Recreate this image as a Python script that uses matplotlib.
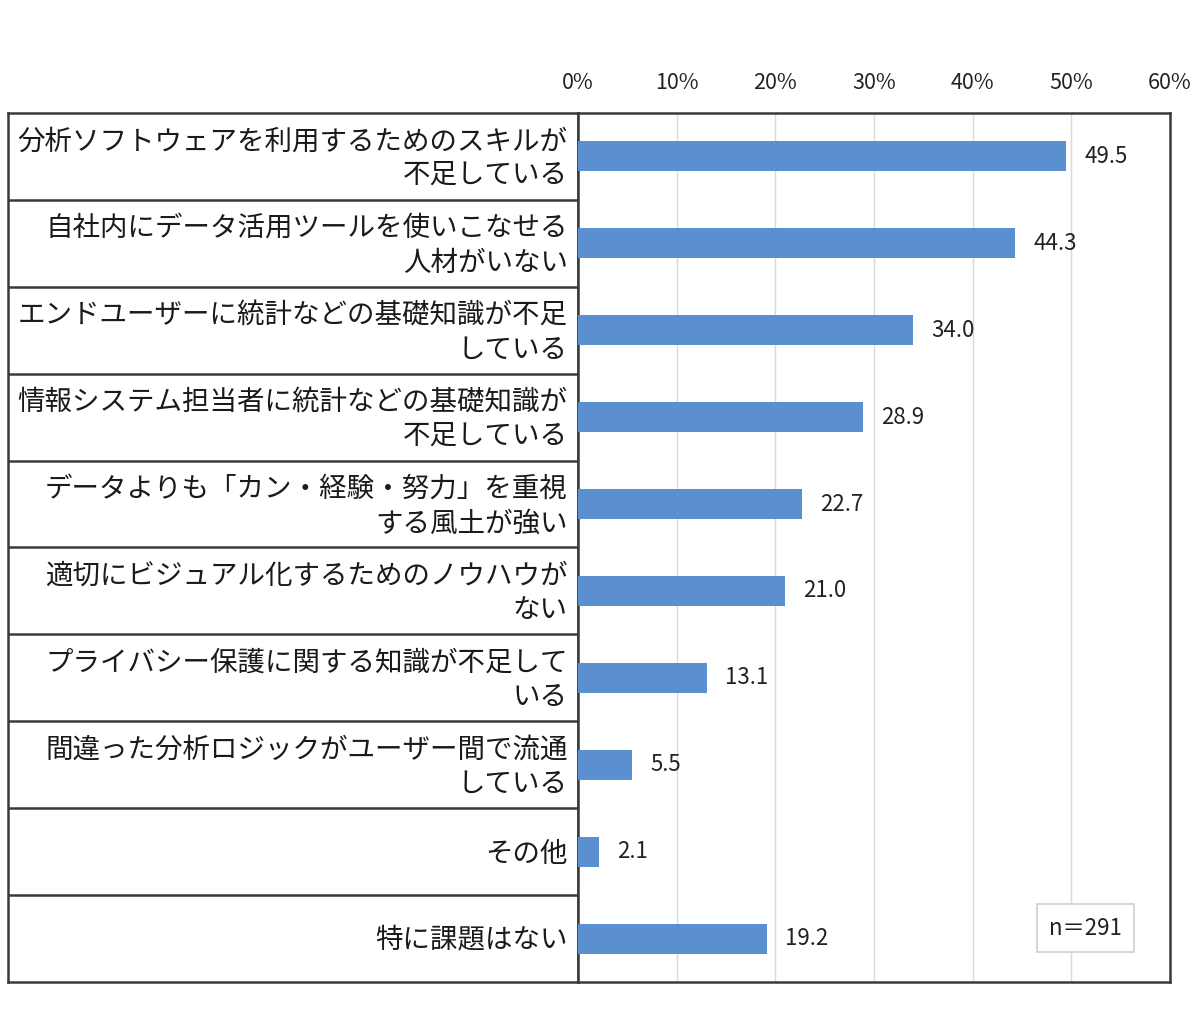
import matplotlib
matplotlib.use("Agg")
import matplotlib.pyplot as plt
import matplotlib.transforms as mtransforms

plt.rcParams['font.family'] = ['Noto Sans CJK JP', 'DejaVu Sans']

categories = [
    "分析ソフトウェアを利用するためのスキルが\n不足している",
    "自社内にデータ活用ツールを使いこなせる\n人材がいない",
    "エンドユーザーに統計などの基礎知識が不足\nしている",
    "情報システム担当者に統計などの基礎知識が\n不足している",
    "データよりも「カン・経験・努力」を重視\nする風土が強い",
    "適切にビジュアル化するためのノウハウが\nない",
    "プライバシー保護に関する知識が不足して\nいる",
    "間違った分析ロジックがユーザー間で流通\nしている",
    "その他",
    "特に課題はない",
]
values = [49.5, 44.3, 34.0, 28.9, 22.7, 21.0, 13.1, 5.5, 2.1, 19.2]
xticks = [0, 10, 20, 30, 40, 50, 60]
xtick_labels = ["0%", "10%", "20%", "30%", "40%", "50%", "60%"]
n_label = "n＝291"

W, H = 1200, 1014
fig = plt.figure(figsize=(W / 100, H / 100), dpi=100)

left_px, split_px, right_px = 8, 578, 1170
top_px, bottom_px = 113, 982

def rect(x0, x1):
    return [x0 / W, 1 - bottom_px / H, (x1 - x0) / W, (bottom_px - top_px) / H]

edge = '#3a3a3a'
lw = 1.8
n = len(categories)
ypos = list(range(n))

# label column
axl = fig.add_axes(rect(left_px, split_px))
axl.set_xlim(0, 1)
axl.set_ylim(n - 0.5, -0.5)
axl.set_xticks([])
axl.set_yticks([])
for s in axl.spines.values():
    s.set_color(edge)
    s.set_linewidth(lw)
for i in range(1, n):
    axl.axhline(i - 0.5, color=edge, lw=lw)
for i, lab in enumerate(categories):
    axl.text(0.982, i + 0.03, lab, ha='right', va='center', fontsize=19.8,
             linespacing=1.37, color='#1a1a1a',
             transform=mtransforms.blended_transform_factory(axl.transAxes, axl.transData))

# plot area
ax = fig.add_axes(rect(split_px, right_px))
ax.barh(ypos, values, height=0.345, color='#5a8fd0', zorder=3)
ax.set_xlim(0, 60)
ax.set_ylim(n - 0.5, -0.5)
ax.set_yticks([])
ax.set_xticks(xticks)
ax.set_xticklabels(xtick_labels, fontsize=15.5, color='#222222')
ax.xaxis.tick_top()
ax.tick_params(axis='x', length=0, pad=14)
ax.grid(axis='x', color='#d9d9d9', lw=1.0, zorder=0)
for s in ax.spines.values():
    s.set_color(edge)
    s.set_linewidth(lw)
for y, v in zip(ypos, values):
    ax.annotate(f"{v:.1f}", (v, y), xytext=(13, 0), textcoords='offset points',
                ha='left', va='center', fontsize=16, color='#222222')

ax.text(0.857, 0.062, n_label, transform=ax.transAxes, ha='center', va='center',
        fontsize=16, color='#222222',
        bbox=dict(boxstyle='square,pad=0.55', facecolor='white', edgecolor='#d0d0d0', lw=1.2))

fig.savefig("out.png", dpi=100, facecolor='white')
